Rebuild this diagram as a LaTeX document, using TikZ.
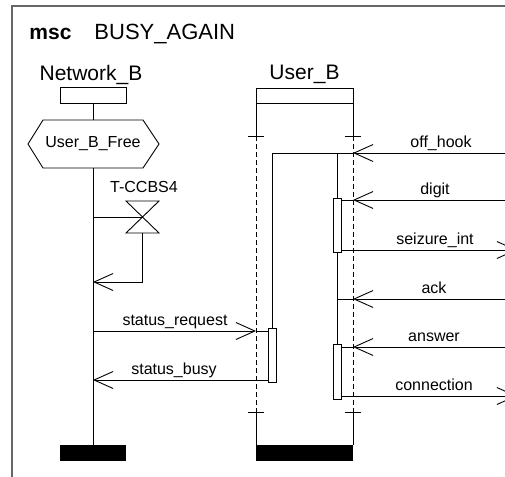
\documentclass[tikz,border=0pt]{standalone}
\usepackage{fontspec}
\setmainfont{Liberation Sans}
\usetikzlibrary{arrows.meta}

\tikzset{
  msgarrow/.style={-{Straight Barb[length=19pt,width=17pt]}},
  lbl/.style={font=\fontsize{16}{18}\selectfont,inner sep=0pt,anchor=base},
  hdr/.style={font=\fontsize{21}{24}\selectfont,inner sep=0pt,anchor=base},
  lifedash/.style={dash pattern=on 5pt off 3pt},
  stopbox/.style={fill=black},
  actbox/.style={draw,fill=white,minimum width=8pt,inner sep=0pt},
}

\begin{document}
\begin{tikzpicture}[x=1pt,y=-1pt,line width=0.9pt]
				\useasboundingbox (0,0) rectangle (505,476);
				\clip (0,0) rectangle (505,476);
				% frame and title
				\draw[black!60,line width=2pt] (12,520) -- (12,6) -- (540,6);
				\node[hdr,anchor=base west,font=\fontsize{21}{24}\selectfont\bfseries] (msc) at (29,40) {msc};
				\node[hdr,anchor=base west,font=\fontsize{22}{24}\selectfont] (title) at (94,40) {BUSY\_AGAIN};

				% Network_B
				\node[hdr] (netname) at (91,81) {Network\_B};
				\draw (60,87) rectangle (126,103);
				\draw (93,103) -- (93,120);
				\draw (43,120) -- (143,120) -- (159,144) -- (143,168) -- (43,168) -- (28,144) -- cycle;
				\node[lbl,anchor=center] (free) at (93,144) {User\_B\_Free};
				\draw (93,168) -- (93,445);
				\fill[stopbox] (60,445) rectangle (126,461);

				% timer
				\node[lbl] (tname) at (144,192) {T-CCBS4};
				\coordinate (tmid) at (142.5,217);
				\draw (93,217) -- (tmid);
				\draw (126,201) -- (159,201) -- (126,233) -- (159,233) -- cycle;
				\draw[msgarrow] (142.5,233) -- (142.5,282) -- (93,282);

				% User_B
				\node[hdr] (username) at (304.5,80) {User\_B};
				\draw (256,88) rectangle (353,103);
				\foreach \x in {256,353} {
					\draw (\x,103) -- (\x,136);
					\draw (\x-8,136) -- (\x+8,136);
					\draw[lifedash] (\x,136) -- (\x,412);
					\draw (\x-8,412) -- (\x+8,412);
					\draw (\x,412) -- (\x,445);
				}
				\fill[stopbox] (256,445) rectangle (353,461);

				% inside User_B
				\node[actbox,minimum height=54pt] (actreq) at (272,355) {};
				\node[actbox,minimum height=54pt] (actdig) at (337,225) {};
				\node[actbox,minimum height=55pt] (actans) at (337,371.5) {};
				\draw (272,153) -- (actreq.north);
				\draw (337,153) -- (actdig.north);
				\draw (actdig.south) -- (actans.north);

				% messages from the right
				\draw[msgarrow] (520,153) -- (353,153);
				\draw (353,153) -- (272,153);
				\node[lbl] (offhook) at (441,147) {off\_hook};

				\draw[msgarrow] (520,200) -- (353,200);
				\draw (353,200) -- (actdig.east |- 0,200);
				\node[lbl] (digit) at (435,194) {digit};

				\draw[msgarrow] (actdig.east |- 0,250) -- (517,250);
				\node[lbl] (seizure) at (435,244) {seizure\_int};

				\draw[msgarrow] (520,299) -- (353,299);
				\draw (353,299) -- (337,299);
				\node[lbl] (ack) at (434,293) {ack};

				\draw[msgarrow] (520,347) -- (353,347);
				\draw (353,347) -- (actans.east |- 0,347);
				\node[lbl] (answer) at (434,341) {answer};

				\draw[msgarrow] (actans.east |- 0,396) -- (517,396);
				\node[lbl] (connection) at (434,390) {connection};

				% messages on the left
				\draw[msgarrow] (93,331) -- (256,331);
				\draw (256,331) -- (actreq.west |- 0,331);
				\node[lbl] (statreq) at (175,325) {status\_request};

				\draw[msgarrow] (actreq.west |- 0,380) -- (93,380);
				\node[lbl] (statbusy) at (174,374) {status\_busy};

		\end{tikzpicture}
\end{document}
